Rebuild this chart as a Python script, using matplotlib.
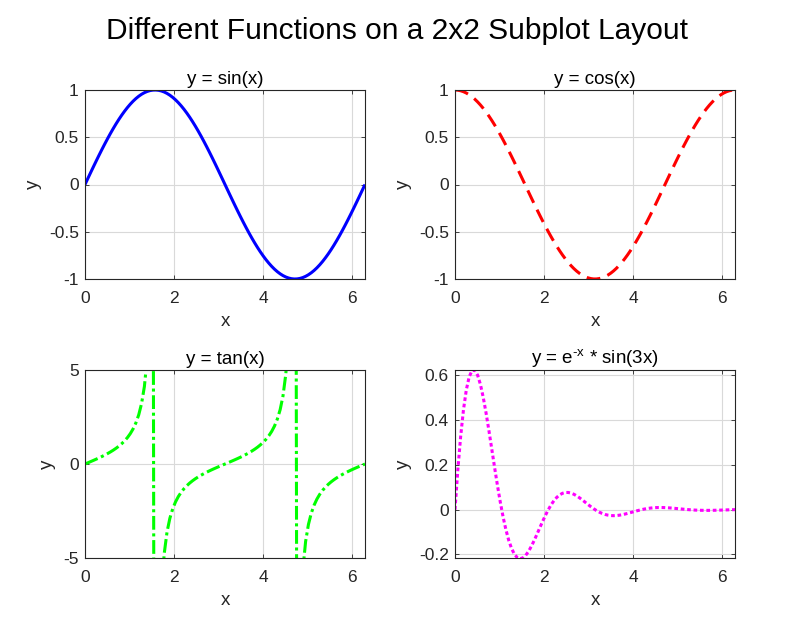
import numpy as np
import matplotlib
matplotlib.use("Agg")
import matplotlib.pyplot as plt

# sample grid (MATLAB-style linspace over one period)
x = np.linspace(0, 2 * np.pi, 100)

titles = ["y = sin(x)", "y = cos(x)", "y = tan(x)", r"y = e$^{\text{-x}}$ * sin(3x)"]
series = [np.sin(x), np.cos(x), np.tan(x), np.exp(-x) * np.sin(3 * x)]
colors = ["#0000ff", "#ff0000", "#00ff00", "#ff00ff"]
styles = ["-", (0, (4.5, 2.5)), (0, (4.5, 1.2, 1, 1.2)), (0, (1.2, 0.9))]
ylims = [(-1, 1), (-1, 1), (-5, 5), (-0.2163, 0.6243)]
yticks = [[-1, -0.5, 0, 0.5, 1], [-1, -0.5, 0, 0.5, 1], [-5, 0, 5],
          [-0.2, 0, 0.2, 0.4, 0.6]]
ytick_labels = [["-1", "-0.5", "0", "0.5", "1"], ["-1", "-0.5", "0", "0.5", "1"],
                ["-5", "0", "5"], ["-0.2", "0", "0.2", "0.4", "0.6"]]
xticks = [0, 2, 4, 6]

plt.rcParams["font.family"] = ["Liberation Sans", "DejaVu Sans"]
plt.rcParams["mathtext.fontset"] = "custom"
plt.rcParams["mathtext.rm"] = "Liberation Sans"
INK = "#262626"

fig = plt.figure(figsize=(8.02, 6.24), dpi=100)
W, H = 802, 624
boxes = [(85, 90, 365, 279), (455, 90, 735, 279),
         (85, 370, 365, 558), (455, 370, 735, 558)]

for i, (l, t, r, b) in enumerate(boxes):
    ax = fig.add_axes([l / W, 1 - b / H, (r - l) / W, (b - t) / H])
    ax.plot(x, series[i], color=colors[i], linestyle=styles[i], linewidth=2.2,
            solid_capstyle="butt", dash_capstyle="butt", clip_on=True)
    ax.set_xlim(0, 2 * np.pi)
    ax.set_ylim(*ylims[i])
    ax.set_xticks(xticks)
    ax.set_xticklabels([str(v) for v in xticks])
    ax.set_yticks(yticks[i])
    ax.set_yticklabels(ytick_labels[i])
    ax.grid(True, color="#d9d9d9", linewidth=0.8)
    ax.set_axisbelow(True)
    ax.tick_params(direction="in", length=3, width=0.6, colors=INK,
                   labelsize=12.5, top=True, right=True)
    ax.tick_params(axis="x", pad=8.5)
    ax.tick_params(axis="y", pad=4.5)
    for sp in ax.spines.values():
        sp.set_color(INK)
        sp.set_linewidth(0.8)
    ax.set_title(titles[i], fontsize=13.5, color="black", pad=4)
    ax.set_xlabel("x", fontsize=13.5, color=INK, labelpad=5)
    ax.set_ylabel("y", fontsize=13.5, color=INK, labelpad=5)

fig.suptitle("Different Functions on a 2x2 Subplot Layout", fontsize=21.5,
             color="black", x=397 / W, y=1 - 17 / H, va="top")

fig.savefig("out.png", dpi=100, facecolor="white")
